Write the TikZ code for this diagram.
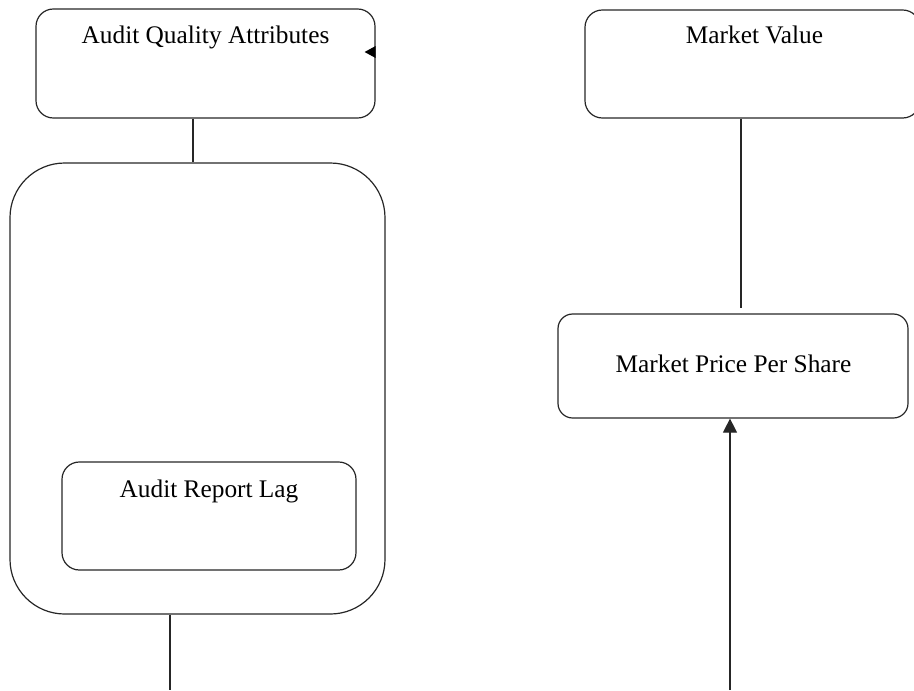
\documentclass[tikz,border=0pt]{standalone}
\usepackage{fontspec}
\setmainfont{Liberation Serif}
\usetikzlibrary{fit,arrows.meta}
\tikzset{
  box/.style={draw=black!85, line width=0.9pt, inner sep=0pt, rounded corners=#1},
  box/.default=13pt,
  lbl/.style={anchor=base, inner sep=0pt, font=\fontsize{19}{22}\selectfont},
  conn/.style={draw=black!85, line width=0.9pt},
}
\begin{document}
\begin{tikzpicture}[x=0.75pt,y=-0.75pt]
\useasboundingbox (0,0) rectangle (914,690);
\clip (0,0) rectangle (914,690);
% boxes
\node[box, fit={(36,9) (375,118)}] (aqa) {};
\node[box=41pt, fit={(10,163) (385,614)}] (big) {};
\node[box, fit={(62,462) (356,570)}] (arl) {};
\node[box, fit={(585,10) (920,118)}] (mv) {};
\node[box=11pt, fit={(558,314) (908,418)}] (mpps) {};
% labels
\node[lbl] (taqa) at (205.5,43) {Audit Quality Attributes};
\node[lbl] (tarl) at (209,497) {Audit Report Lag};
\node[lbl] (tmv) at (754.5,43) {Market Value};
\node[lbl] (tmpps) at (733.5,372) {Market Price Per Share};
% connectors
\coordinate (c1) at (193,0);
\draw[conn] (aqa.south -| c1) -- (big.north -| c1);
\coordinate (c2) at (741,308);
\draw[conn] (mv.south -| c2) -- (c2);
\coordinate (e1) at (170,690);
\draw[conn] (big.south -| e1) -- (e1);
\coordinate (e2) at (730,690);
\draw[conn, -{Triangle[length=10.5pt,width=10.5pt]}] (e2) -- (e2 |- mpps.south);
\coordinate (t2) at (0,52);
\fill[black] (aqa.east |- t2) ++(0,-6) -- ++(-11,6) -- ++(11,6) -- cycle;
\end{tikzpicture}
\end{document}
